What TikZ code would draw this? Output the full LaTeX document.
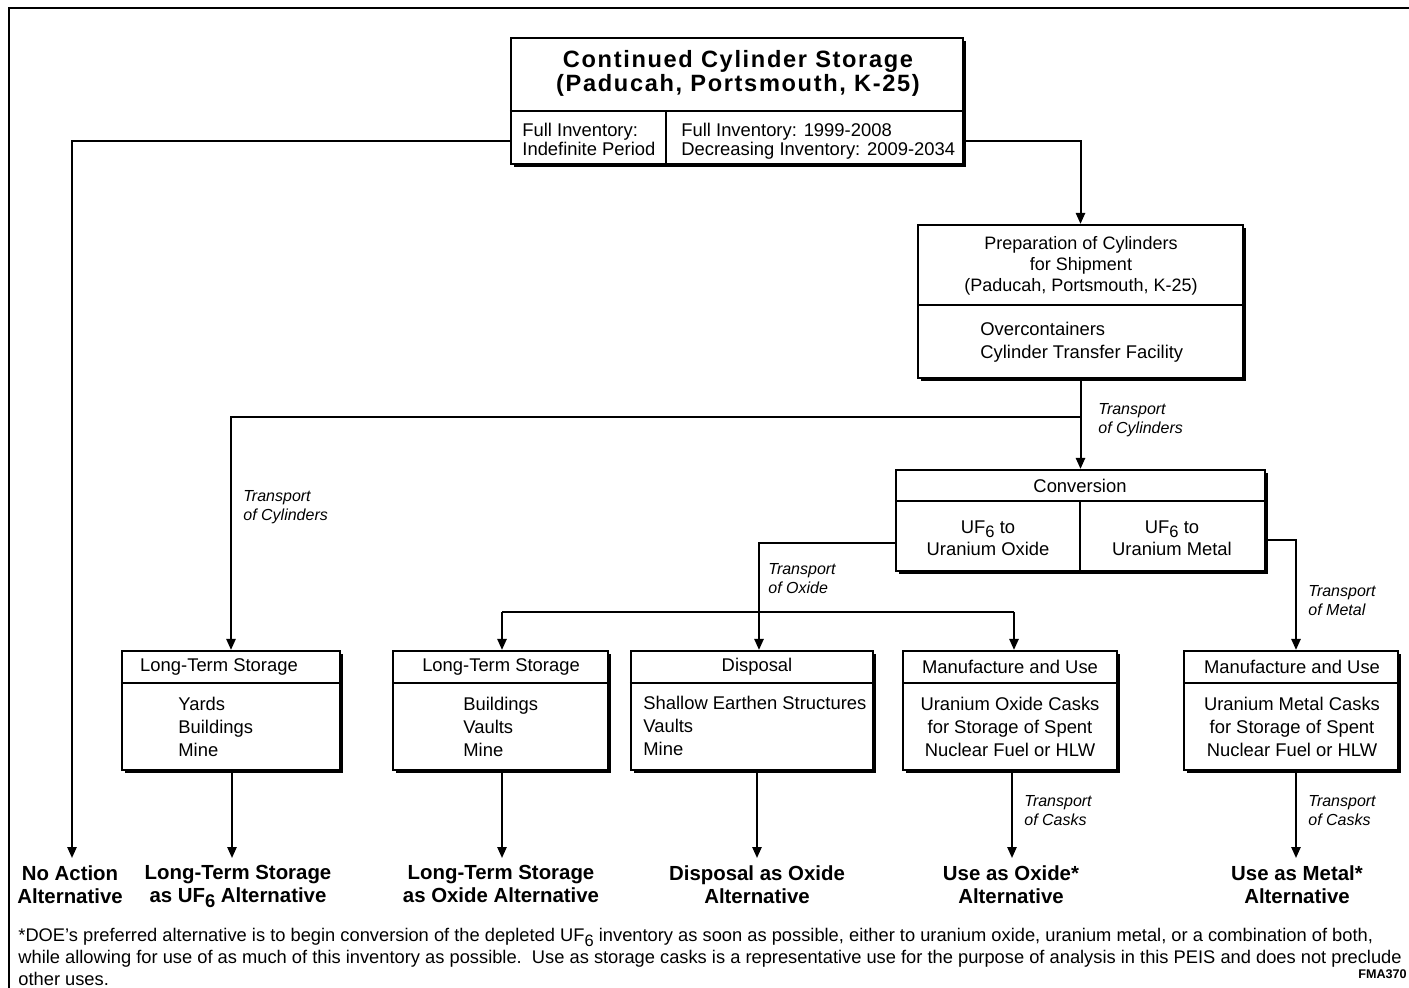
\documentclass[tikz,border=0pt]{standalone}
\usepackage{fontspec}
\setmainfont{Liberation Sans}
\newfontfamily\titlefam[LetterSpace=7]{Liberation Sans}
\usetikzlibrary{arrows.meta,fit,shadows}
\newcommand{\sixlow}{\raisebox{-0.45ex}{\scalebox{0.9}{6}}}
\begin{document}
\begin{tikzpicture}[x=0.5pt,y=-0.5pt,
  box/.style={draw, line width=1.1pt, fill=white, inner sep=0pt,
    drop shadow={shadow xshift=1.5pt, shadow yshift=-1.5pt, fill=black, opacity=1}},
  sep/.style={line width=1.1pt},
  conn/.style={line width=1pt},
  arr/.style={conn, -{Triangle[length=5.5pt,width=4.6pt]}},
  txt/.style={inner sep=0pt, font=\fontsize{9.2}{11.5}\selectfont},
  ltxt/.style={txt, anchor=north west, align=left},
  ctxt/.style={txt, anchor=north, align=center},
  lab/.style={inner sep=0pt, anchor=north west, align=left, font=\fontsize{8}{9.5}\selectfont\itshape},
  alt/.style={inner sep=0pt, anchor=north, align=center, font=\fontsize{10.2}{11.5}\selectfont\bfseries},
]
\useasboundingbox (0,0) rectangle (1409,987);
\draw[line width=1.3pt] (9,1000) -- (9,8) -- (1420,8);

% ---------- boxes ----------
\node[box, fit={(511,38) (963,164)}] (top) {};
\draw[sep] (top.west |- 0,111) -- (top.east |- 0,111);
\draw[sep] (666,111) -- (666,0 |- top.south);

\node[box, fit={(918,225) (1243,378)}] (prep) {};
\draw[sep] (prep.west |- 0,305) -- (prep.east |- 0,305);

\node[box, fit={(896,470) (1265,571)}] (conv) {};
\draw[sep] (conv.west |- 0,501) -- (conv.east |- 0,501);
\draw[sep] (1080,501) -- (1080,0 |- conv.south);

\node[box, fit={(122,651) (340,770)}] (lts1) {};
\node[box, fit={(393,651) (608,770)}] (lts2) {};
\node[box, fit={(631,651) (873,770)}] (disp) {};
\node[box, fit={(903,651) (1117,770)}] (mu1) {};
\node[box, fit={(1184,651) (1398,770)}] (mu2) {};
\foreach \b in {lts1,lts2,disp,mu1,mu2}{
  \draw[sep] (\b.west |- 0,683) -- (\b.east |- 0,683);
}

% ---------- texts in boxes ----------
\node[inner sep=0pt, anchor=north, align=center,
  font=\titlefam\bfseries\fontsize{11.8}{12.2}\selectfont] (ttl) at (738,50)
  {Continued Cylinder Storage\\(Paducah, Portsmouth, K-25)};
\node[ltxt, font=\fontsize{9.2}{9.6}\selectfont] (fia) at (522,123) {Full Inventory:\\Indefinite Period};
\node[ltxt, font=\fontsize{9.2}{9.6}\selectfont] (fib) at (681,123) {Full Inventory: 1999-2008\\Decreasing Inventory: 2009-2034};

\node[ctxt, font=\fontsize{9}{10.5}\selectfont] (prept) at (1081,236)
  {Preparation of Cylinders\\for Shipment\\(Paducah, Portsmouth, K-25)};
\node[ltxt] (prepi) at (980,322) {Overcontainers\\Cylinder Transfer Facility};

\node[txt] (convt) at (1080,486) {Conversion};
\node[ctxt, font=\fontsize{9.2}{11}\selectfont] (convo) at (988,520) {UF\sixlow{} to\\Uranium Oxide};
\node[ctxt, font=\fontsize{9.2}{11}\selectfont] (convm) at (1172,520) {UF\sixlow{} to\\Uranium Metal};

\node[txt] (h1) at (219,667) {Long-Term Storage};
\node[txt] (h2) at (501,667) {Long-Term Storage};
\node[txt] (h3) at (757,667) {Disposal};
\node[txt] (h4) at (1010,667) {Manufacture and Use};
\node[txt] (h5) at (1292,667) {Manufacture and Use};

\node[ltxt] (i1) at (178,697) {Yards\\Buildings\\Mine};
\node[ltxt] (i2) at (463,697) {Buildings\\Vaults\\Mine};
\node[ltxt] (i3) at (643,696) {Shallow Earthen Structures\\Vaults\\Mine};
\node[ctxt] (i4) at (1010,697) {Uranium Oxide Casks\\for Storage of Spent\\Nuclear Fuel or HLW};
\node[ctxt] (i5) at (1292,697) {Uranium Metal Casks\\for Storage of Spent\\Nuclear Fuel or HLW};

% ---------- alternatives ----------
\node[alt] (alt1) at (70,865) {No Action\\Alternative};
\node[alt] (alt2) at (238,865) {Long-Term Storage\\as UF\sixlow{} Alternative};
\node[alt] (alt3) at (501,865) {Long-Term Storage\\as Oxide Alternative};
\node[alt] (alt4) at (757,865) {Disposal as Oxide\\Alternative};
\node[alt] (alt5) at (1011,865) {Use as Oxide*\\Alternative};
\node[alt] (alt6) at (1297,865) {Use as Metal*\\Alternative};

% ---------- connectors ----------
\draw[arr, shorten >=3.5pt] (top.west |- 0,141) -| (72,0 |- alt1.north);
\draw[arr] (top.east |- 0,141) -| (prep.north);
\draw[arr] (prep.south) -- (conv.north);
\draw[arr] (prep.south |- 0,417) -| (lts1.north);
\draw[arr] (conv.west |- 0,543) -| (759,0 |- disp.north);
\coordinate (bl) at (502,612);
\coordinate (br) at (1014,612);
\draw[conn] (bl) -- (br);
\draw[arr] (bl) -- (bl |- lts2.north);
\draw[arr] (br) -- (br |- mu1.north);
\draw[arr] (conv.east |- 0,540) -| (1296,0 |- mu2.north);

\draw[arr, shorten >=3.5pt] (232,0 |- lts1.south) -- (232,0 |- alt2.north);
\draw[arr, shorten >=3.5pt] (502,0 |- lts2.south) -- (502,0 |- alt3.north);
\draw[arr, shorten >=3.5pt] (757,0 |- disp.south) -- (757,0 |- alt4.north);
\draw[arr, shorten >=3.5pt] (1012,0 |- mu1.south) -- (1012,0 |- alt5.north);
\draw[arr, shorten >=3.5pt] (1296,0 |- mu2.south) -- (1296,0 |- alt6.north);

% ---------- connector labels ----------
\node[lab] (t1) at (1098,403) {Transport\\of Cylinders};
\node[lab] (t2) at (243,490) {Transport\\of Cylinders};
\node[lab] (t3) at (768,563) {Transport\\of Oxide};
\node[lab] (t4) at (1308,585) {Transport\\of Metal};
\node[lab] (t5) at (1024,795) {Transport\\of Casks};
\node[lab] (t6) at (1308,795) {Transport\\of Casks};

% ---------- footnote ----------
\node[inner sep=0pt, anchor=north west, align=left, font=\fontsize{9.15}{11}\selectfont] (fn) at (18,928)
  {*DOE's preferred alternative is to begin conversion of the depleted UF\sixlow{} inventory as soon as possible, either to uranium oxide, uranium metal, or a combination of both,\\
   while allowing for use of as much of this inventory as possible.\ \ Use as storage casks is a representative use for the purpose of analysis in this PEIS and does not preclude\\
   other uses.};
\node[inner sep=0pt, anchor=north west, font=\fontsize{6.3}{7}\selectfont\bfseries] (fma) at (1358,969) {FMA370};
\end{tikzpicture}
\end{document}
